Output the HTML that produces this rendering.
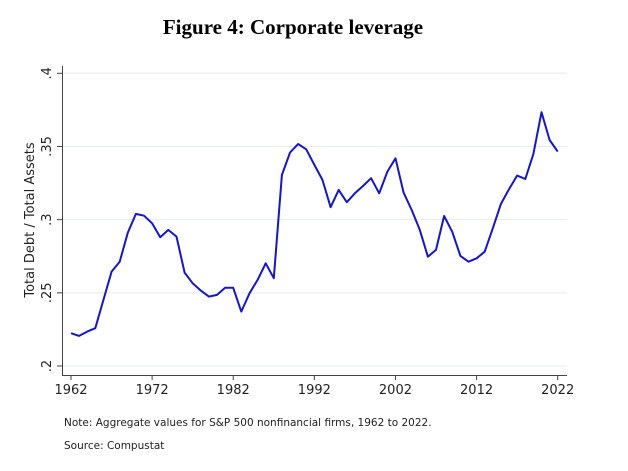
<!DOCTYPE html>
<html><head><meta charset="utf-8"><style>
body{margin:0;background:#fff;width:628px;height:471px;overflow:hidden}
svg{display:block}
</style></head><body>
<svg id="chart" width="628" height="471" font-family="'DejaVu Sans','Liberation Sans',sans-serif">
<text x="293" y="34" text-anchor="middle" font-family="'Liberation Serif',serif" font-weight="bold" font-size="21" fill="#000">Figure 4: Corporate leverage</text>
<g id="grid"></g>
<g id="axes"></g>
<path id="line" fill="none" stroke="#1414d8" stroke-width="2" stroke-linejoin="round"/>
<text transform="translate(34,220) rotate(-90)" text-anchor="middle" font-size="13" fill="#222">Total Debt / Total Assets</text>
<text x="64" y="426" font-size="10.5" fill="#222">Note: Aggregate values for S&amp;P 500 nonfinancial firms, 1962 to 2022.</text>
<text x="64" y="449" font-size="10.5" fill="#222">Source: Compustat</text>
</svg>
<script>
const years=[];for(let y=1962;y<=2022;y++)years.push(y);
const leverage=[.2224,.2206,.2235,.2258,.2451,.2645,.2713,.2911,.3039,.3027,.2975,.2880,.2930,.2884,.2638,.2565,.2515,.2474,.2486,.2534,.2534,.2372,.2497,.2588,.2702,.2600,.3305,.3458,.3517,.3481,.3374,.3271,.3085,.3203,.3119,.3180,.3230,.3283,.3180,.3328,.3419,.3185,.3066,.2930,.2747,.2793,.3025,.2918,.2752,.2713,.2736,.2781,.2941,.3107,.3208,.3301,.3278,.3449,.3734,.3544,.3465];
const yTicks=[.2,.25,.3,.35,.4];
const yTickLabels=[".2",".25",".3",".35",".4"];
const xTicks=[1962,1972,1982,1992,2002,2012,2022];
const xS=v=>71+(v-1962)*(557.7-71)/60;
const yS=v=>366-(v-.2)*(366-73.3)/.2;
const NS="http://www.w3.org/2000/svg";
const grid=document.getElementById('grid'),axes=document.getElementById('axes');
function mk(tag,attrs,parent){const e=document.createElementNS(NS,tag);for(const k in attrs)e.setAttribute(k,attrs[k]);parent.appendChild(e);return e;}
yTicks.forEach((t,i)=>{
 const g=mk('line',{x1:63,x2:567,y1:yS(t),y2:yS(t),stroke:'#e6eeee','stroke-width':1},grid);
 
 
 mk('line',{x1:57,x2:63,y1:yS(t),y2:yS(t),stroke:'#444'},axes);
 const tx=mk('text',{transform:`translate(51,${yS(t)}) rotate(-90)`,'text-anchor':'middle','font-size':13,fill:'#222'},axes);
 tx.textContent=yTickLabels[i];
 
 
});
xTicks.forEach(t=>{
 mk('line',{x1:xS(t),x2:xS(t),y1:375,y2:380,stroke:'#444'},axes);
 const tx=mk('text',{x:xS(t),y:394,'text-anchor':'middle','font-size':13,fill:'#222'},axes);
 tx.textContent=t;
 
 
});
const ya=mk('line',{x1:62.5,x2:62.5,y1:66,y2:375.5,stroke:'#444'},axes);


const xa=mk('line',{x1:62,x2:567,y1:375.5,y2:375.5,stroke:'#444'},axes);


document.getElementById('line').setAttribute('d',years.map((y,i)=>(i?'L':'M')+xS(y).toFixed(1)+','+yS(leverage[i]).toFixed(1)).join(''));
</script>
</body></html>
